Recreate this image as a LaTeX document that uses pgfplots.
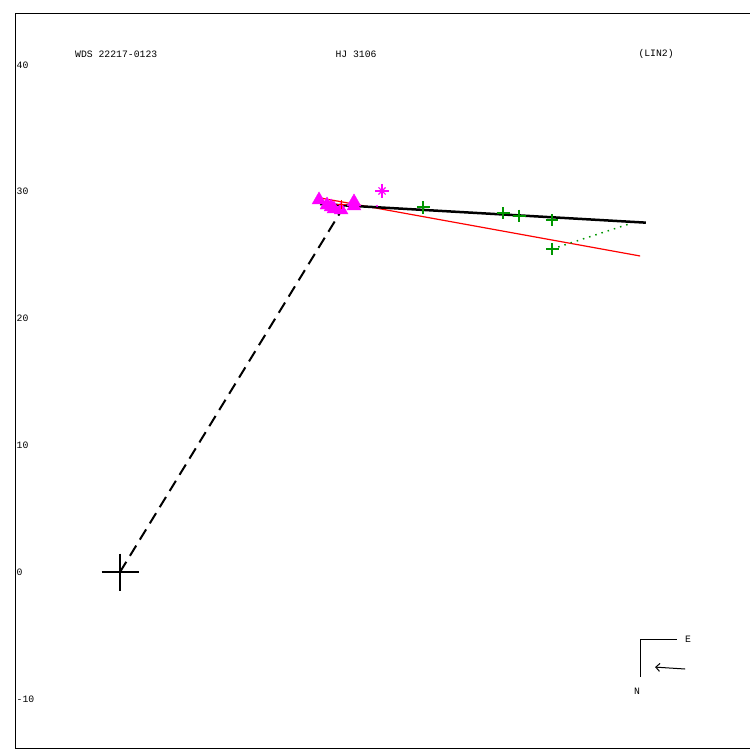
\documentclass[border=0pt]{standalone}
\usepackage{fontspec}
\setmainfont{Liberation Mono}
\usepackage{pgfplots}
\pgfplotsset{compat=1.18}
\usetikzlibrary{arrows.meta}
\definecolor{mgreen}{RGB}{0,150,0}
\definecolor{mmag}{RGB}{255,0,255}
\definecolor{mred}{RGB}{255,0,0}
\begin{document}
\begin{tikzpicture}[x=1bp,y=1bp]
\useasboundingbox (0,0) rectangle (750,750);
\begin{axis}[
 at={(15bp,1bp)}, anchor=south west,
 scale only axis, width=736bp, height=735bp,
 xmin=-8.284, xmax=49.78, ymin=-13.96, ymax=44.02,
 axis line style={line width=1bp},
 xtick=\empty,
 ytick={-10,0,10,20,30,40},
 major tick length=0pt,
 yticklabel style={anchor=west, inner sep=1.5bp, font=\fontsize{9.8}{11}\selectfont},
 /pgf/number format/assume math mode=true,
 clip=false,
]
% measured triangles
\addplot[only marks, mark=triangle*, mark size=8bp, mmag, mark options={fill=mmag, draw=mmag}] coordinates {
(15.70,29.35) (16.33,28.95) (16.65,28.80) (16.88,28.64) (17.44,28.56) (18.46,29.19) (18.46,28.88)
};
% dashed line to ephemeris
\addplot[black, line width=2bp, dash pattern=on 12bp off 7bp] coordinates {(0,0) (17.59,28.72)};
% red line
\addplot[mred, line width=1.2bp] coordinates {(15.78,29.51) (41.03,24.93)};
% black linear fit
\addplot[black, line width=2.5bp] coordinates {(15.78,29.03) (41.48,27.56)};
% green dotted residual
\addplot[mgreen, line width=1.5bp, dash pattern=on 1.5bp off 5bp] coordinates {(34.08,25.48) (40.39,27.53)};
% primary
\addplot[only marks, mark=+, mark size=18.5bp, black, mark options={line width=2.4bp}] coordinates {(0,0)};
% green crosses
\addplot[only marks, mark=+, mark size=6.2bp, mgreen, mark options={line width=1.8bp}] coordinates {
(23.93,28.77) (30.24,28.30) (31.50,28.09) (34.06,27.77) (34.11,25.46)
};
% red mark
\addplot[only marks, mark=+, mark size=4.5bp, mred, mark options={line width=1.5bp}] coordinates {(17.47,29.0)};
% magenta asterisk
\addplot[only marks, mark=+, mark size=7bp, mmag, mark options={line width=1.1bp}] coordinates {(20.67,30.06)};
\addplot[only marks, mark=x, mark size=5bp, mmag, mark options={line width=1.1bp}] coordinates {(20.67,30.06)};
\addplot[only marks, mark=*, mark size=0.8bp, mmag] coordinates {(20.28,28.88)};
% compass
\addplot[black, line width=1bp] coordinates {(43.94,-5.29) (41.03,-5.29) (41.03,-8.28)};
\addplot[black, line width=1bp, -{Straight Barb[length=4bp,width=8bp]}] coordinates {(44.58,-7.65) (42.21,-7.50)};
\node[font=\fontsize{9.8}{11}\selectfont, inner sep=0pt] at (axis cs:44.81,-5.29) {E};
\node[font=\fontsize{9.8}{11}\selectfont, inner sep=0pt] at (axis cs:40.79,-9.39) {N};
% titles
\node[anchor=west, font=\fontsize{9.8}{11}\selectfont, inner sep=0pt] at (axis cs:-3.55,40.87) {WDS 22217-0123};
\node[font=\fontsize{9.8}{11}\selectfont, inner sep=0pt] at (axis cs:18.62,40.87) {HJ 3106};
\node[font=\fontsize{9.8}{11}\selectfont, inner sep=0pt] at (axis cs:42.29,40.87) {(LIN2)};
\end{axis}
\end{tikzpicture}
\end{document}
